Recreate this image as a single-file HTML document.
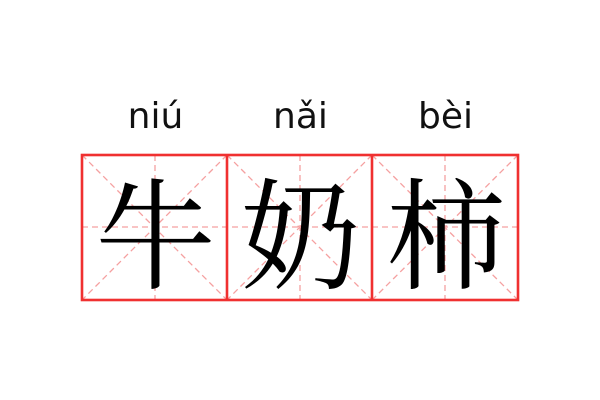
<!DOCTYPE html>
<html><head><meta charset="utf-8"><style>
body{margin:0;width:600px;height:400px;background:#fff;position:relative;overflow:hidden}
.py{position:absolute;top:96px;width:145px;text-align:center;font:36px "DejaVu Sans","Liberation Sans",sans-serif;color:#111}
.ch{position:absolute;top:161px;width:145px;text-align:center;font:120px/135px "Noto Serif CJK SC","Noto Sans CJK SC",serif;color:#000}
</style></head><body>
<div class="py" style="left:83px">niú</div>
<div class="py" style="left:228px">nǎi</div>
<div class="py" style="left:373px">bèi</div>
<svg width="600" height="400" style="position:absolute;left:0;top:0">
<g stroke="#f5a0a0" stroke-width="1.3" stroke-dasharray="6,4" fill="none">
<line x1="82" y1="227" x2="518" y2="227"/>
<line x1="155" y1="155" x2="155" y2="300"/>
<line x1="300" y1="155" x2="300" y2="300"/>
<line x1="445" y1="155" x2="445" y2="300"/>
<line x1="82" y1="155" x2="227" y2="300"/><line x1="227" y1="155" x2="82" y2="300"/>
<line x1="227" y1="155" x2="372" y2="300"/><line x1="372" y1="155" x2="227" y2="300"/>
<line x1="372" y1="155" x2="518" y2="300"/><line x1="518" y1="155" x2="372" y2="300"/>
</g>
<g stroke="#f03030" stroke-width="2.6" fill="none">
<rect x="82" y="155" width="436" height="145"/>
<line x1="227" y1="155" x2="227" y2="300"/>
<line x1="372" y1="155" x2="372" y2="300"/>
</g>
</svg>
<div class="ch" style="left:83px">牛</div>
<div class="ch" style="left:228px">奶</div>
<div class="ch" style="left:373px">柿</div>
</body></html>
